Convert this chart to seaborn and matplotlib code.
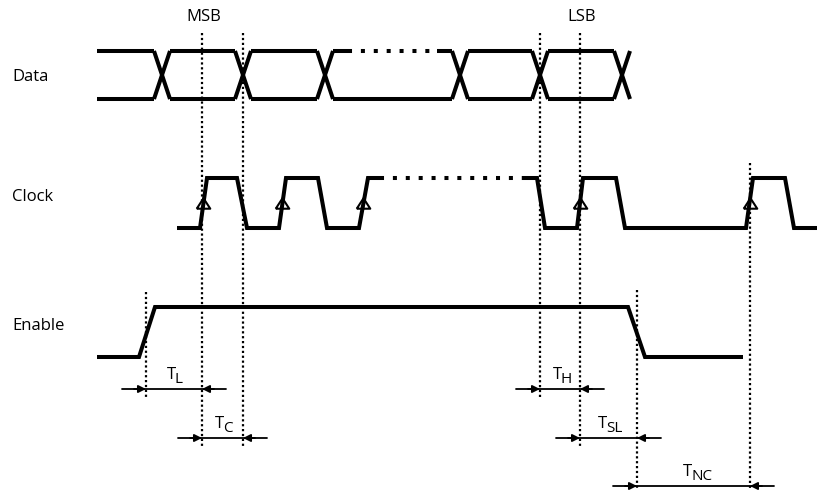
import matplotlib as mpl
mpl.use('Agg')
import matplotlib.pyplot as plt
import seaborn as sns
import pandas as pd

sns.set_theme(style="white")
plt.rcParams['font.family'] = ['Open Sans', 'DejaVu Sans']

# ---- timing data (time axis in pixels of the original drawing) ----
row_names = ["Data", "Clock", "Enable"]
row_label_y = [77, 197, 326]

# data bus: centres of the bit transitions, and the levels of the eye
data_start = 97
data_cross = [162, 243, 325, 460, 540, 622]
data_half = 8
data_top, data_bot = 51, 99
data_gap = [348, 437]          # dotted part of the top line between bit 3 and LSB-1

# clock: (time, level) vertices, level 1 = high
clock_t = [177, 200, 207, 237, 247, 279, 286, 318, 327, 359, 368, 380]
clock_l = [0, 0, 1, 1, 0, 0, 1, 1, 0, 0, 1, 1]
clock_t2 = [522, 537, 545, 577, 583, 616, 625, 746, 753, 785, 794, 817]
clock_l2 = [1, 1, 0, 0, 1, 1, 0, 0, 1, 1, 0, 0]
clock_gap = [380, 522]
clock_hi, clock_lo = 178, 228
clock_arrows = [203, 282, 363, 580, 750]

# enable
enable_t = [97, 139, 155, 628, 645, 743]
enable_l = [0, 0, 1, 1, 0, 0]
enable_hi, enable_lo = 307, 357

# reference markers (x, y from, y to)
guide_x = [146, 202, 243, 540, 580, 637, 750]
guide_y0 = [292, 33, 33, 33, 33, 290, 163]
guide_y1 = [397, 446, 446, 398, 446, 490, 490]

# timing parameters
param_names = ["L", "C", "H", "SL", "NC"]
param_from = [146, 202, 540, 580, 637]
param_to = [202, 243, 580, 637, 750]
param_y = [389, 438, 389, 438, 486]

top_labels = ["MSB", "LSB"]
top_label_x = [204, 582]

BLACK = "black"
LW = 2.9

fig = plt.figure(figsize=(8.17, 4.90), dpi=100)
ax = fig.add_axes([0, 0, 1, 1])
ax.set_xlim(0, 817)
ax.set_ylim(490, 0)
ax.axis('off')


def wave(x, y, **kw):
    df = pd.DataFrame({'t': x, 'v': y})
    sns.lineplot(data=df, x='t', y='v', sort=False, estimator=None, ax=ax,
                 color=BLACK, lw=kw.pop('lw', LW), solid_joinstyle='miter',
                 solid_capstyle='butt', zorder=3, **kw)


# ---- Data row ----
edges = [data_start] + data_cross
for a, b in zip(edges[:-1], edges[1:]):
    x0 = a + data_half if a != data_start else a
    x1 = b - data_half
    if a == data_cross[2]:
        wave([x0, data_gap[0]], [data_top, data_top])
        wave([data_gap[1], x1], [data_top, data_top])
        wave(data_gap, [data_top, data_top], linestyle=(0, (1, 2.2)))
    else:
        wave([x0, x1], [data_top, data_top])
    wave([x0, x1], [data_bot, data_bot])
for c in data_cross:
    wave([c - data_half, c + data_half], [data_top, data_bot])
    wave([c - data_half, c + data_half], [data_bot, data_top])

# ---- Clock row ----
lev = lambda l, hi, lo: [hi if v else lo for v in l]
wave(clock_t, lev(clock_l, clock_hi, clock_lo))
wave(clock_t2, lev(clock_l2, clock_hi, clock_lo))
wave(clock_gap, [clock_hi, clock_hi], linestyle=(0, (1, 2.2)))
tri = [(-1.3, -1), (1.3, -1), (0, 1), (-1.3, -1)]   # wide open triangle
ax.scatter(clock_arrows, [203] * len(clock_arrows), marker=tri, s=95,
           facecolor='white', edgecolor=BLACK, linewidth=1.5, zorder=2)

# ---- Enable row ----
wave(enable_t, lev(enable_l, enable_hi, enable_lo))

# ---- guides ----
for x, y0, y1 in zip(guide_x, guide_y0, guide_y1):
    ax.plot([x, x], [y0, y1], color=BLACK, lw=1.6, linestyle=(0, (1, 1.2)),
            dash_capstyle='butt', zorder=1)

# ---- timing arrows ----
for name, a, b, y in zip(param_names, param_from, param_to, param_y):
    ax.plot([a - 24, b + 24], [y, y], color=BLACK, lw=1.3)
    for tip, d in ((a, -1), (b, 1)):
        ax.annotate('', xy=(tip, y), xytext=(tip + d * 12, y),
                    arrowprops=dict(arrowstyle='-|>', color=BLACK, lw=1.3,
                                    mutation_scale=11, shrinkA=0, shrinkB=0))
    tx = (a + b) / 2 - 3 * len(name)
    t = ax.text(tx, y - 10, 'T', fontsize=12, ha='center', va='baseline',
                color=BLACK)
    ax.annotate(name, xy=(1, y - 6), xycoords=(t, 'data'), xytext=(-0.5, 0),
                textcoords='offset points', fontsize=11, ha='left',
                va='baseline', color=BLACK)

for name, y in zip(row_names, row_label_y):
    ax.text(12, y, name, fontsize=12, ha='left', va='center', color=BLACK)
for name, x in zip(top_labels, top_label_x):
    ax.text(x, 17, name, fontsize=12, ha='center', va='center', color=BLACK)

fig.savefig('out.png', dpi=100)
